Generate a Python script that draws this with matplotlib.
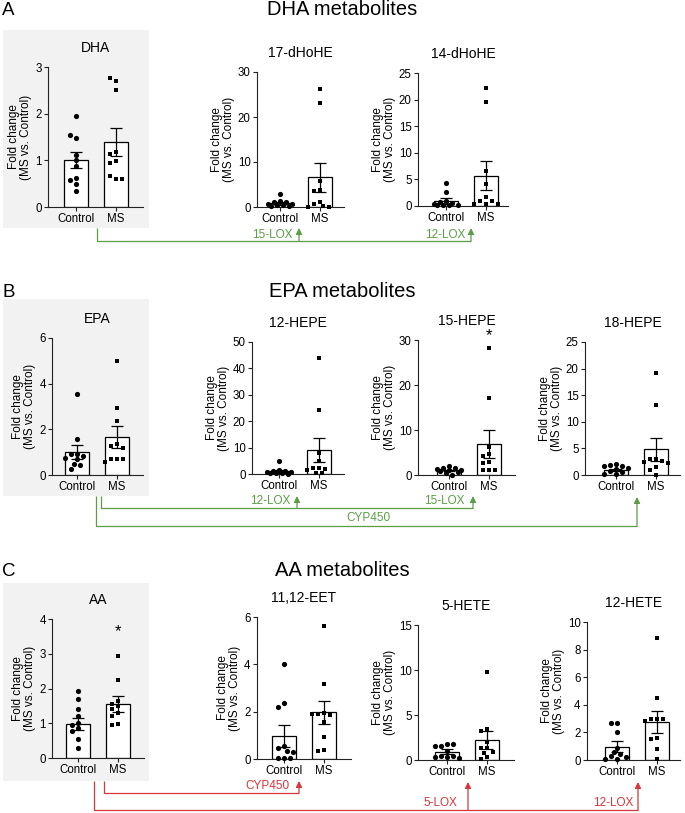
import matplotlib
matplotlib.use("Agg")
import matplotlib.pyplot as plt
from matplotlib.patches import Rectangle

plt.rcParams['font.family'] = ['Liberation Sans', 'DejaVu Sans']

W, H = 685, 813
GREEN = "#5b9e46"
RED = "#d8363c"
GREY_BOX = "#f2f2f2"

groups = ["Control", "MS"]

# --- values (fold change, MS vs. Control) ---
dha_ctrl = [1.96, 1.48, 1.54, 1.12, 1.01, 0.88, 0.63, 0.57, 0.49, 0.34]
dha_ms = [2.71, 2.77, 2.51, 1.18, 1.13, 0.99, 0.94, 0.61, 0.66, 0.61]
dha_mean, dha_sem = [1.0, 1.39], [0.17, 0.30]

hdohe17_ctrl = [2.8, 1.3, 1.2, 1.1, 0.7, 0.6, 0.5, 0.4, 0.3, 0.2]
hdohe17_ms = [26.3, 23.0, 5.8, 3.7, 3.6, 1.1, 0.7, 0.2, 0.1, 0.1]
hdohe17_mean, hdohe17_sem = [0.85, 6.6], [0.3, 3.2]

hdohe14_ctrl = [4.3, 2.7, 1.0, 0.8, 0.5, 0.3, 0.2, 0.2, 0.1, 0.1]
hdohe14_ms = [22.2, 19.5, 6.5, 4.1, 1.7, 1.0, 1.0, 0.3, 0.3, 0.3]
hdohe14_mean, hdohe14_sem = [0.95, 5.7], [0.55, 2.7]

epa_ctrl = [3.55, 1.57, 0.93, 0.9, 0.82, 0.74, 0.68, 0.47, 0.42, 0.26]
epa_ms = [5.0, 2.95, 2.35, 1.35, 1.25, 1.2, 0.72, 0.7, 0.68, 0.58]
epa_mean, epa_sem = [1.0, 1.67], [0.31, 0.48]

hepe12_ctrl = [5.0, 1.5, 1.3, 1.0, 0.8, 0.6, 0.4, 0.3, 0.2, 0.1]
hepe12_ms = [44.0, 24.2, 8.0, 4.8, 2.3, 2.2, 2.0, 1.5, 0.5, 0.2]
hepe12_mean, hepe12_sem = [1.0, 9.0], [0.45, 4.6]

hepe15_ctrl = [1.9, 1.6, 1.5, 1.3, 1.2, 1.0, 0.9, 0.7, 0.5, 0.1]
hepe15_ms = [28.3, 17.2, 6.3, 4.6, 4.3, 2.8, 2.6, 1.1, 1.0, 1.0]
hepe15_mean, hepe15_sem = [1.0, 6.9], [0.17, 3.1]

hepe18_ctrl = [2.0, 1.8, 1.7, 1.6, 1.3, 1.1, 0.7, 0.6, 0.2, 0.1]
hepe18_ms = [19.2, 13.2, 3.1, 3.0, 2.7, 2.5, 2.3, 1.5, 0.9, 0.0]
hepe18_mean, hepe18_sem = [1.0, 4.8], [0.22, 2.1]

aa_ctrl = [1.92, 1.7, 1.4, 1.2, 1.0, 0.95, 0.85, 0.78, 0.55, 0.3]
aa_ms = [2.93, 2.25, 1.65, 1.55, 1.5, 1.4, 1.3, 1.2, 0.98, 0.95]
aa_mean, aa_sem = [0.98, 1.55], [0.18, 0.22]

eet_ctrl = [4.03, 2.35, 2.2, 0.55, 0.45, 0.35, 0.3, 0.05, 0.05, 0.05]
eet_ms = [5.6, 3.17, 1.95, 1.92, 1.88, 1.9, 1.55, 0.95, 0.4, 0.35]
eet_mean, eet_sem = [0.98, 1.97], [0.47, 0.5]

hete5_ctrl = [1.8, 1.6, 1.8, 1.55, 1.0, 0.35, 0.45, 0.45, 0.35, 0.2]
hete5_ms = [9.8, 3.4, 3.2, 2.0, 1.3, 1.3, 0.9, 0.8, 0.3, 0.15]
hete5_mean, hete5_sem = [0.92, 2.25], [0.25, 1.0]

hete12_ctrl = [2.7, 2.65, 2.05, 0.9, 0.6, 0.45, 0.3, 0.2, 0.1, 0.05]
hete12_ms = [8.85, 4.5, 3.0, 3.0, 2.95, 2.8, 1.6, 1.5, 0.8, 0.05]
hete12_mean, hete12_sem = [0.95, 2.75], [0.4, 0.82]

# significance stars: (value where the star sits)
hepe15_star = 31.0
aa_star = 3.65

PX_PER_UNIT_X = 40.0


def swarm(vals, px_per_y, step=3.0, gap=4.8, nmax=4):
    """simple beeswarm: push points sideways (within the bar) to limit overlap"""
    placed, offs = [], []
    cands = [0.0]
    for k in range(1, nmax + 1):
        cands += [-k * step, k * step]
    for v in vals:
        y = v * px_per_y
        best, best_d = cands[0], -1
        for c in cands:
            d = min([((c - px) ** 2 + (y - py) ** 2) ** 0.5 for px, py in placed] or [99])
            if d >= gap:
                best = c
                break
            if d > best_d:
                best, best_d = c, d
        placed.append((best, y))
        offs.append(best / PX_PER_UNIT_X)
    return offs


def draw_panel(fig, title, ctrl, ms, mean, sem, ymax, ystep, box, ctrl_px, star=None):
    left, right, y0, ytop = box
    ax = fig.add_axes([left / W, 1 - y0 / H, (right - left) / W, (y0 - ytop) / H])
    ax.patch.set_alpha(0)
    ax.set_xlim(-(ctrl_px - left) / PX_PER_UNIT_X, (right - ctrl_px) / PX_PER_UNIT_X)
    ax.set_ylim(0, ymax)
    px_per_y = (y0 - ytop) / ymax

    ax.bar([0, 1], mean, width=0.62, facecolor="white", edgecolor="black",
           linewidth=0.9, zorder=1)
    ax.errorbar([0, 1], mean, yerr=sem, fmt="none", ecolor="black",
                elinewidth=0.9, capsize=4.5, capthick=0.9, zorder=2)
    for i, (vals, mk, s) in enumerate([(ctrl, "o", 14), (ms, "s", 12)]):
        xs = [i + o for o in swarm(vals, px_per_y)]
        ax.scatter(xs, vals, marker=mk, s=s, color="black", linewidths=0,
                   zorder=3, clip_on=False)

    if star is not None:
        ax.text(1, star, "*", ha="center", va="center", fontsize=12, clip_on=False)

    for sp in ["top", "right"]:
        ax.spines[sp].set_visible(False)
    for sp in ["left", "bottom"]:
        ax.spines[sp].set_linewidth(0.8)
        ax.spines[sp].set_color("#222222")
    ax.set_yticks(range(0, ymax + 1, ystep))
    ax.set_xticks([0, 1])
    ax.set_xticklabels(groups)
    ax.tick_params(direction="out", length=3, width=0.8, labelsize=8.3, pad=1.5,
                   color="#222222")
    ax.set_ylabel("Fold change\n(MS vs. Control)", fontsize=8.5, labelpad=2,
                  linespacing=1.05)
    ax.set_title(title, fontsize=10, pad=11)
    return ax


fig = plt.figure(figsize=(W / 100, H / 100), dpi=100)

# overlay in pixel coordinates for boxes, pathway arrows and headings
ov = fig.add_axes([0, 0, 1, 1], zorder=-1)
ov.set_xlim(0, W)
ov.set_ylim(H, 0)
ov.axis("off")

for top, bot in [(30, 228), (299, 496), (583, 781)]:
    ov.add_patch(Rectangle((3, top), 146, bot - top, facecolor=GREY_BOX,
                           edgecolor="none"))

for letter, head, base in [("A", "DHA metabolites", 15),
                           ("B", "EPA metabolites", 297),
                           ("C", "AA metabolites", 576)]:
    ov.text(2, base, letter, fontsize=13.5, va="baseline", ha="left")
    ov.text(342, base, head, fontsize=14.5, va="baseline", ha="center")


def route(xs, ys, color):
    ov.plot(xs, ys, color=color, lw=0.9, solid_capstyle="butt")


def arrow(x, ybase, ytip, color):
    ov.annotate("", xy=(x, ytip), xytext=(x, ybase),
                arrowprops=dict(arrowstyle="-|>", color=color, lw=0.9,
                                mutation_scale=9, shrinkA=0, shrinkB=0))


# A: DHA -> 17-dHoHE (15-LOX), 14-dHoHE (12-LOX)
route([97, 97, 471], [228, 241, 241], GREEN)
arrow(299, 241, 228, GREEN)
arrow(471, 241, 228, GREEN)
ov.text(293, 235, "15-LOX", color=GREEN, fontsize=8.5, ha="right", va="center")
ov.text(465, 235, "12-LOX", color=GREEN, fontsize=8.5, ha="right", va="center")

# B: EPA -> 12-HEPE, 15-HEPE, 18-HEPE
route([101, 101, 473], [496, 508, 508], GREEN)
route([96, 96, 637], [496, 526, 526], GREEN)
arrow(297, 508, 496, GREEN)
arrow(473, 508, 496, GREEN)
arrow(637, 526, 497, GREEN)
ov.text(290, 501, "12-LOX", color=GREEN, fontsize=8.5, ha="right", va="center")
ov.text(465, 501, "15-LOX", color=GREEN, fontsize=8.5, ha="right", va="center")
ov.text(368, 518, "CYP450", color=GREEN, fontsize=8.5, ha="center", va="center")

# C: AA -> 11,12-EET, 5-HETE, 12-HETE
route([104, 104, 299], [781, 793, 793], RED)
route([94, 94, 638], [781, 810, 810], RED)
arrow(299, 793, 781, RED)
arrow(468, 810, 782, RED)
arrow(638, 810, 782, RED)
ov.text(290, 786, "CYP450", color=RED, fontsize=8.5, ha="right", va="center")
ov.text(440, 803, "5-LOX", color=RED, fontsize=8.5, ha="center", va="center")
ov.text(633, 803, "12-LOX", color=RED, fontsize=8.5, ha="right", va="center")

# --- panels ---
draw_panel(fig, "DHA", dha_ctrl, dha_ms, dha_mean, dha_sem, 3, 1, (48, 143, 207, 67), 76)
draw_panel(fig, "17-dHoHE", hdohe17_ctrl, hdohe17_ms, hdohe17_mean, hdohe17_sem, 30, 10,
           (257, 344, 207, 72), 280)
draw_panel(fig, "14-dHoHE", hdohe14_ctrl, hdohe14_ms, hdohe14_mean, hdohe14_sem, 25, 5,
           (418, 508, 206, 73), 446)

draw_panel(fig, "EPA", epa_ctrl, epa_ms, epa_mean, epa_sem, 6, 2, (52, 143, 475, 338), 77)
draw_panel(fig, "12-HEPE", hepe12_ctrl, hepe12_ms, hepe12_mean, hepe12_sem, 50, 10,
           (252, 344, 474, 342), 279)
draw_panel(fig, "15-HEPE", hepe15_ctrl, hepe15_ms, hepe15_mean, hepe15_sem, 30, 10,
           (418, 515, 475, 340), 449, star=hepe15_star)
draw_panel(fig, "18-HEPE", hepe18_ctrl, hepe18_ms, hepe18_mean, hepe18_sem, 25, 5,
           (585, 680, 475, 342), 616)

draw_panel(fig, "AA", aa_ctrl, aa_ms, aa_mean, aa_sem, 4, 1, (52, 144, 758, 619), 78,
           star=aa_star)
draw_panel(fig, "11,12-EET", eet_ctrl, eet_ms, eet_mean, eet_sem, 6, 2,
           (257, 351, 759, 617), 284)
draw_panel(fig, "5-HETE", hete5_ctrl, hete5_ms, hete5_mean, hete5_sem, 15, 5,
           (418, 514, 760, 625), 447)
draw_panel(fig, "12-HETE", hete12_ctrl, hete12_ms, hete12_mean, hete12_sem, 10, 2,
           (587, 680, 760, 622), 617)

fig.savefig("out.png", dpi=100)
